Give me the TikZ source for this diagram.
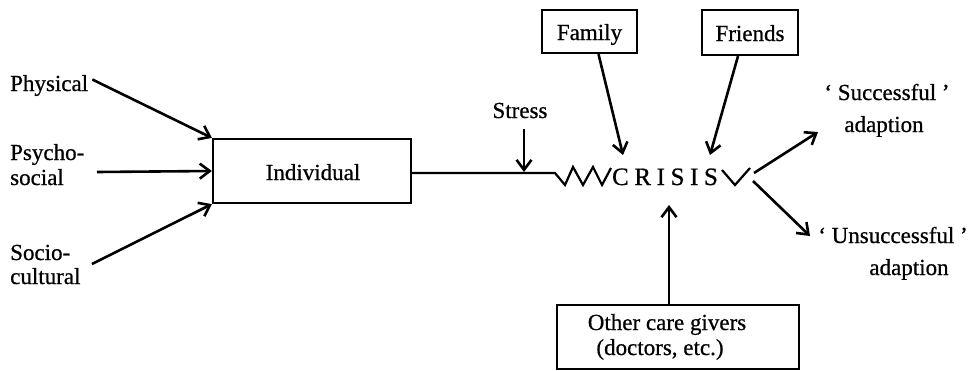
\documentclass[tikz,border=0pt]{standalone}
\usepackage{fontspec}
\setmainfont{Liberation Serif}[FakeBold=0.7]
\usetikzlibrary{arrows.meta}
\begin{document}
\begin{tikzpicture}[x=1pt,y=-1pt,
  txt/.style={font=\fontsize{23}{25}\selectfont, inner sep=0pt},
  boxnode/.style={draw, line width=2.2pt, inner sep=0pt, font=\fontsize{23}{25}\selectfont},
  arr/.style={line width=2.6pt, -{Straight Barb[length=10pt,width=15pt,line width=2.6pt]}},
  plain/.style={line width=2.2pt, line join=miter}]
\useasboundingbox (0,0) rectangle (977,370);
% left labels
\node[txt, anchor=base west] (phys) at (10,91) {Physical};
\node[txt, anchor=base west] (psy1) at (10,160) {Psycho-};
\node[txt, anchor=base west] (psy2) at (10,185) {social};
\node[txt, anchor=base west] (soc1) at (10,260) {Socio-};
\node[txt, anchor=base west] (soc2) at (10,284) {cultural};
% individual box
\node[boxnode, minimum width=198pt, minimum height=64pt] (ind) at (312,171) {};
\node[txt, anchor=base] (indt) at (313,180) {Individual};
\coordinate (psyS) at (97,172);
\coordinate (socS) at (92,264);
\draw[arr] (phys.east) ++(4,-6) coordinate (physS) -- (ind.north west);
\draw[arr] (psyS) -- (ind.west);
\draw[arr] (socS) -- (ind.south west);
% line and zigzag
\coordinate (zA) at (555,173);
\node[font=\fontsize{25}{27}\selectfont, inner sep=0pt, anchor=base] (crisis) at (665,185)
  {C\kern5.6pt R\kern5.6pt I\kern5.6pt S\kern5.6pt I\kern5.6pt S};
\draw[plain] (ind.east |- zA) -- (zA) -- (565,185) -- (573,167) -- (583,185) -- (593,167) -- (602,185) -- (611,168);
\coordinate (zB) at (722,170);
\coordinate (zE) at (750,168);
\draw[plain] (zB) -- (735,185) -- (zE);
% stress
\node[txt, anchor=base] (stress) at (520,118) {Stress};
\coordinate (stressT) at (524,172);
\draw[arr] (524,129) coordinate (stressS) -- (stressT);
% family, friends
\node[boxnode, minimum width=95pt, minimum height=43pt] (family) at (589.5,31.5) {};
\node[txt, anchor=base] (familyt) at (589.5,40) {Family};
\node[boxnode, minimum width=96pt, minimum height=45pt] (friends) at (750,32.5) {};
\node[txt, anchor=base] (friendst) at (750,41) {Friends};
\coordinate (famT) at (623,155);
\coordinate (friT) at (710,155);
\draw[arr] ([xshift=9pt]family.south) -- (famT);
\draw[arr] ([xshift=-12pt]friends.south) -- (friT);
% outcomes
\coordinate (sucT) at (818,132);
\coordinate (unsT) at (810,236);
\draw[arr] (754,173) coordinate (sucS) -- (sucT);
\draw[arr] (753,181) coordinate (unsS) -- (unsT);
\node[txt, anchor=base] (suc1) at (887,100) {‘ Successful ’};
\node[txt, anchor=base] (suc2) at (884,132) {adaption};
\node[txt, anchor=base] (uns1) at (893,243) {‘ Unsuccessful ’};
\node[txt, anchor=base] (uns2) at (909,275) {adaption};
% other care givers
\node[boxnode, minimum width=242pt, minimum height=64pt] (other) at (678,337) {};
\node[txt, anchor=base] (oth1) at (667,330) {Other care givers};
\node[txt, anchor=base] (oth2) at (660,355) {(doctors, etc.)};
\coordinate (othT) at (669,205);
\draw[arr] (other.north -| othT) -- (othT);
\end{tikzpicture}
\end{document}
